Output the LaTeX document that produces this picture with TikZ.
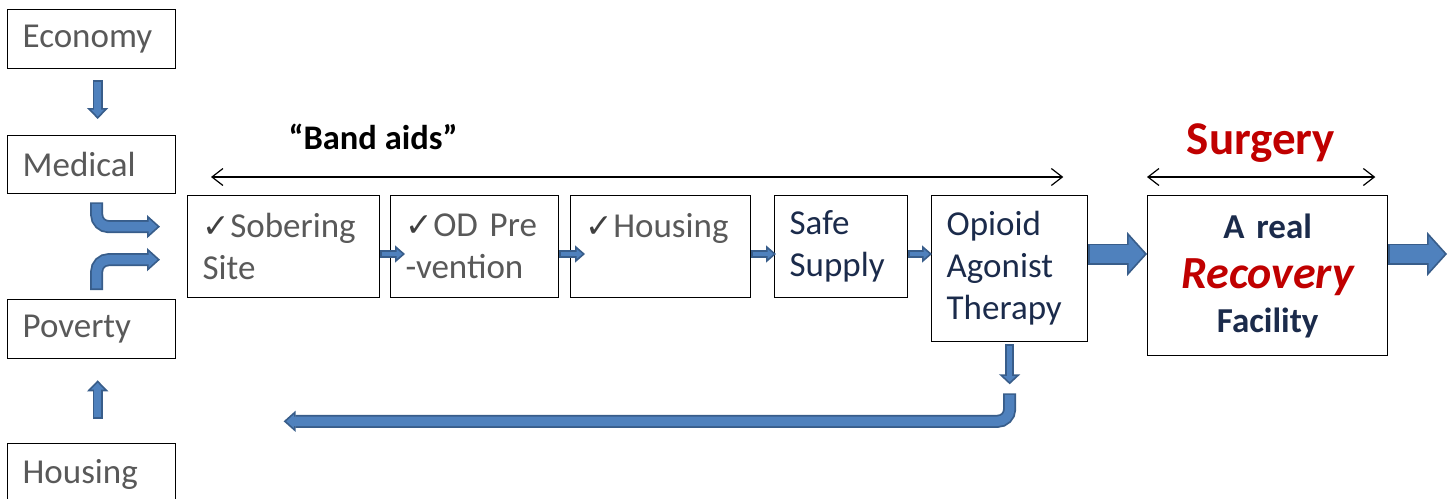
\documentclass[tikz,border=0pt]{standalone}
\usepackage{fontspec}
\setmainfont{Carlito}
\newfontfamily\checkfont{DejaVu Sans}
\usetikzlibrary{positioning,calc,arrows.meta}

\definecolor{boxgray}{HTML}{595959}
\definecolor{tickgray}{HTML}{404040}
\definecolor{navytext}{HTML}{1B2B4B}
\definecolor{surgred}{HTML}{C00000}
\definecolor{arrowfill}{HTML}{4F81BD}
\definecolor{arrowedge}{HTML}{385D8A}

\newcommand{\tick}{{\checkfont\fontsize{33}{33}\selectfont\color{tickgray}✓}}

\begin{document}
\begin{tikzpicture}[
    x=1pt, y=-1pt,
    every node/.style={font=\fontsize{35}{42}\selectfont},
    leftbox/.style={draw, line width=1.3pt, anchor=north west, text width=138pt,
        inner xsep=15pt, inner ysep=0pt, align=left, text=boxgray},
    bandbox/.style={draw, line width=1.3pt, anchor=north west,
        inner xsep=15pt, inner ysep=0pt, align=left},
    fatarrow/.style n args={3}{draw=arrowedge, line width=#1,
        -{Triangle[length=#2, width=#3, line width=1.6pt, fill=arrowfill]},
        postaction={draw=arrowfill, line width=#1-3.6pt, -, shorten <=1.6pt, shorten >=#2-3pt}},
    span/.style={line width=1.2pt,
        {Straight Barb[length=11pt,width=17pt]}-{Straight Barb[length=11pt,width=17pt]}}
]
    \useasboundingbox (0,0) rectangle (1453,498);

    % causes down the left side
    \node[leftbox, minimum height=59pt] (economy) at (7,9) {Economy};
    \node[leftbox, minimum height=58pt] (medical) at (7,135) {Medical};
    \node[leftbox, minimum height=59pt] (poverty) at (7,299) {Poverty};
    \node[leftbox, minimum height=62pt] (housing) at (7,443) {Housing};

    % the chain of measures
    \node[bandbox, text width=162pt, minimum height=102pt, text=boxgray] (sober) at (187,195) {\tick Sobering\\Site};
    \node[bandbox, text width=138pt, minimum height=102pt, text=boxgray] (od) at (390,195) {\tick OD Pre\\-vention};
    \node[bandbox, text width=150pt, minimum height=102pt, text=boxgray] (house) at (570,195) {\tick Housing\\\mbox{}};
    \node[bandbox, text width=103pt, minimum height=102pt, text=navytext] (safe) at (774,195) {Safe\\Supply};
    \node[bandbox, text width=126pt, minimum height=146pt, text=navytext] (opioid) at (931,195) {Opioid\\Agonist\\Therapy};
    \node[bandbox, text width=210pt, minimum height=160pt, text=navytext, align=center] (recovery) at (1147,195)
        {\textbf{A real}\\[8pt]{\fontsize{46}{50}\selectfont\bfseries\itshape\color{surgred}Recovery}\\[2pt]\textbf{Facility}};

    % headings
    \node[font=\fontsize{34.5}{34.5}\selectfont\bfseries, anchor=base] (bandaids) at (373,149) {“Band aids”};
    \node[font=\fontsize{47}{47}\selectfont\bfseries, text=surgred, anchor=base] (surgery) at (1261,154) {Surgery};
    \draw[span] ($(sober.north west)+(24,-18)$) -- ($(opioid.north east)+(-25,-18)$);
    \draw[span] ($(recovery.north west)+(0,-18)$) -- ($(recovery.north east)+(-13,-18)$);

    % block arrows
    \coordinate (mainline) at (0,254);
    \coordinate (exit) at (1447,254);
    \draw[fatarrow={10pt}{11pt}{21pt}] ($(economy.south)+(6,11)$) -- ($(medical.north)+(6,-16)$);
    \draw[fatarrow={10pt}{11pt}{21pt}] ($(housing.north)+(6,-24)$) -- ($(poverty.south)+(6,21)$);
    \draw[fatarrow={13pt}{13pt}{23pt}, rounded corners=12pt] ($(medical.south)+(5,8)$) |- ($(sober.west)+(-27,-20)$);
    \draw[fatarrow={13pt}{13pt}{23pt}, rounded corners=12pt] ($(poverty.north)+(5,-9)$) |- ($(sober.west)+(-27,13)$);
    \draw[fatarrow={8pt}{10pt}{17pt}] (sober.east |- mainline) -- ($(od.west |- mainline)+(15,0)$);
    \draw[fatarrow={8pt}{10pt}{17pt}] (od.east |- mainline) -- ($(house.west |- mainline)+(15,0)$);
    \draw[fatarrow={8pt}{10pt}{17pt}] (house.east |- mainline) -- ($(safe.west |- mainline)+(2,0)$);
    \draw[fatarrow={8pt}{10pt}{17pt}] (safe.east |- mainline) -- ($(opioid.west |- mainline)+(1,0)$);
    \draw[fatarrow={21pt}{20pt}{44pt}] (opioid.east |- mainline) -- (recovery.west |- mainline);
    \draw[fatarrow={21pt}{20pt}{44pt}] (recovery.east |- mainline) -- (exit);
    \draw[fatarrow={9pt}{10pt}{21pt}] ($(opioid.south)+(0,2)$) -- ($(opioid.south)+(0,42)$);
    \draw[fatarrow={13pt}{12pt}{21pt}, rounded corners=12pt] ($(opioid.south)+(0,51)$) |- ($(sober.south)+(0,123)$);
\end{tikzpicture}
\end{document}
